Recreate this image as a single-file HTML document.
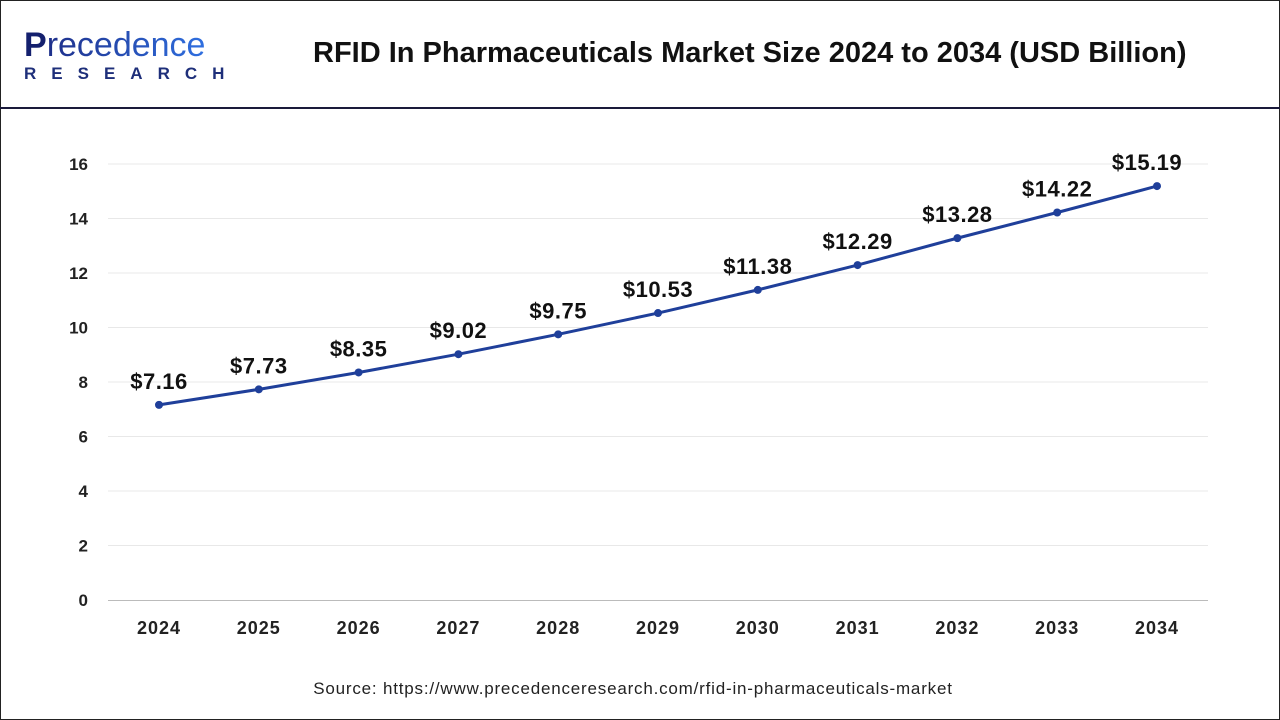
<!DOCTYPE html>
<html><head><meta charset="utf-8"><style>
body{margin:0;width:1280px;height:720px;overflow:hidden;background:#fff;font-family:"Liberation Sans",sans-serif}
#frame{position:absolute;left:0;top:0;width:1278px;height:718px;border:1px solid #222}
#hdr{position:absolute;left:0;top:0;width:1280px;height:107px;border-bottom:2px solid #1a1a3a}
</style></head><body>
<div id="frame"></div>
<div id="hdr">
 <div style="position:absolute;left:24px;top:28px">
  <div style="font-size:34px;line-height:34px;color:#1e3a8a;font-weight:bold"><span style="color:#14206e">P</span><span style="background:linear-gradient(90deg,#1e2f8a,#2f6fe0);-webkit-background-clip:text;color:transparent;font-weight:normal">recedence</span></div>
  <div style="font-size:17px;font-weight:bold;letter-spacing:15px;color:#1e2f7a;margin-top:2px">RESEARCH</div>
 </div>
 <div style="position:absolute;left:313px;top:37px;font-size:29px;font-weight:bold;color:#111">RFID In Pharmaceuticals Market Size 2024 to 2034 (USD Billion)</div>
</div>
<svg id="chart" width="1280" height="720" style="position:absolute;left:0;top:0"></svg>
<div style="position:absolute;left:0;width:1266px;text-align:center;top:679px;font-size:17px;letter-spacing:0.8px;color:#222">Source: https://www.precedenceresearch.com/rfid-in-pharmaceuticals-market</div>
<script>
const years=["2024","2025","2026","2027","2028","2029","2030","2031","2032","2033","2034"];
const values=[7.16,7.73,8.35,9.02,9.75,10.53,11.38,12.29,13.28,14.22,15.19];
const labels=["$7.16","$7.73","$8.35","$9.02","$9.75","$10.53","$11.38","$12.29","$13.28","$14.22","$15.19"];
const yTicks=[0,2,4,6,8,10,12,14,16];
const NS="http://www.w3.org/2000/svg";
const svg=document.getElementById('chart');
const x=i=>159+i*99.8;
const y=v=>600-v*27.25;
function mk(t,a){const e=document.createElementNS(NS,t);for(const k in a)e.setAttribute(k,a[k]);svg.appendChild(e);return e;}
yTicks.forEach(t=>{
 if(t>0){const g=mk('line',{x1:108,x2:1208,y1:y(t),y2:y(t),stroke:'#e8e8e8','stroke-width':1});
 
 }
 const l=mk('text',{x:88,y:y(t)+6,'text-anchor':'end','font-size':17,'font-weight':'bold',fill:'#222','font-family':'Liberation Sans'});
 l.textContent=t;
 
 
});
const ax=mk('line',{x1:108,x2:1208,y1:600.5,y2:600.5,stroke:'#bbb','stroke-width':1});


years.forEach((yr,i)=>{
 const t=mk('text',{x:x(i),y:634,'text-anchor':'middle','font-size':18,'font-weight':'bold','letter-spacing':1,fill:'#222','font-family':'Liberation Sans'});
 t.textContent=yr;
 
 
});
const ln=mk('polyline',{points:values.map((v,i)=>x(i)+','+y(v)).join(' '),fill:'none',stroke:'#1f3f9a','stroke-width':3});


values.forEach((v,i)=>{
 const c=mk('circle',{cx:x(i),cy:y(v),r:4,fill:'#1f3f9a'});
 
 
 const t=mk('text',{x:x(i)-(i==values.length-1?10:0),y:y(v)-16,'text-anchor':'middle','font-size':22,'font-weight':'bold','letter-spacing':0.5,fill:'#111','font-family':'Liberation Sans'});
 t.textContent=labels[i];
 
 
});
</script>
</body></html>
